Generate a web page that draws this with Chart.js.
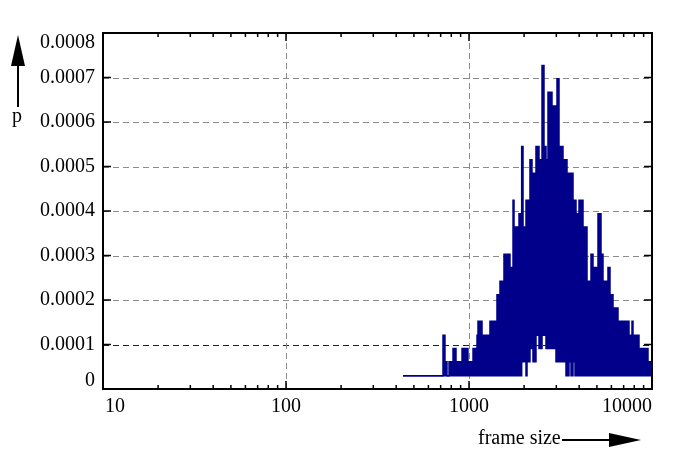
<!DOCTYPE html>
<html>
<head>
<meta charset="utf-8">
<script src="https://cdn.jsdelivr.net/npm/chart.js@4/dist/chart.umd.min.js"></script>
<style>
  html, body { margin: 0; background: #fff; }
</style>
</head>
<body>
<canvas id="frameChart" width="700" height="460"></canvas>
<script>
// --- Data ---
// left edge of each step (frame size)
const frameSizes = [
  436, 721, 739, 758, 778, 818, 849, 916, 987, 1052,
  1106, 1120, 1178, 1302, 1422, 1477, 1553, 1675, 1740, 1762,
  1876, 1924, 1948, 1973, 2049, 2075, 2154, 2209, 2237, 2323,
  2413, 2506, 2569, 2635, 2702, 2841, 2877, 2988, 3026, 3103,
  3263, 3389, 3432, 3519, 3609, 3701, 3795, 3843, 3991, 4197,
  4414, 4641, 4760, 5069, 5264, 5398, 5748, 5895, 6122, 6519,
  7487, 7775, 7873, 8490, 9272, 9390, 9509, 10000
];
// upper edge of the dense histogram
const pUpper = [
  0.00003, 0.000121, 0.000061, 0.00003, 0.000061, 0.000091, 0.000061, 0.000091, 0.000061, 0.000091,
  0.000121, 0.000152, 0.000121, 0.000152, 0.000212, 0.000242, 0.000303, 0.000273, 0.000424, 0.000364,
  0.000394, 0.000394, 0.000545, 0.000364, 0.000424, 0.000424, 0.000515, 0.000485, 0.000485, 0.000545,
  0.000515, 0.000727, 0.000545, 0.000515, 0.000667, 0.000606, 0.000636, 0.000606, 0.000697, 0.000545,
  0.000515, 0.000515, 0.000485, 0.000485, 0.000485, 0.000424, 0.000424, 0.000394, 0.000424, 0.000364,
  0.000242, 0.000303, 0.000273, 0.000394, 0.000303, 0.000242, 0.000273, 0.000212, 0.000182, 0.000152,
  0.000121, 0.000152, 0.000121, 0.000091, 0.000061, 0.000091, 0.000061, 0.000061
];
// lower edge of the dense histogram
const pLower = [
  0.00003, 0.00003, 0.00003, 0.00003, 0.00003, 0.00003, 0.00003, 0.00003, 0.00003, 0.00003,
  0.00003, 0.00003, 0.00003, 0.00003, 0.00003, 0.00003, 0.00003, 0.00003, 0.00003, 0.00003,
  0.00003, 0.000061, 0.000061, 0.000061, 0.00003, 0.000061, 0.000091, 0.000091, 0.000061, 0.000121,
  0.000091, 0.000121, 0.000121, 0.000091, 0.000091, 0.000091, 0.000091, 0.000061, 0.000061, 0.000061,
  0.000061, 0.00003, 0.00003, 0.000061, 0.00003, 0.000061, 0.00003, 0.00003, 0.00003, 0.00003,
  0.00003, 0.00003, 0.00003, 0.00003, 0.00003, 0.00003, 0.00003, 0.00003, 0.00003, 0.00003,
  0.00003, 0.00003, 0.00003, 0.00003, 0.00003, 0.00003, 0.00003, 0.00003
];

// --- Ticks ---
const yTicks = [0, 0.0001, 0.0002, 0.0003, 0.0004, 0.0005, 0.0006, 0.0007, 0.0008];
const yTickLabels = ['0', '0.0001', '0.0002', '0.0003', '0.0004', '0.0005', '0.0006', '0.0007', '0.0008'];
const xTicks = [10, 100, 1000, 10000];
const xTickLabels = ['10', '100', '1000', '10000'];

const BLUE = '#00008b';
const FONT = '20px "Liberation Serif", "DejaVu Serif", serif';

// each value holds from its frame size to the next one
function steps(values) {
  const pts = [];
  for (let i = 0; i < frameSizes.length - 1; i++) {
    pts.push({ x: frameSizes[i], y: values[i] });
    pts.push({ x: frameSizes[i + 1], y: values[i] });
  }
  return pts;
}

// --- Grid, frame, ticks and labels drawn on the library's scales ---
const framePlugin = {
  id: 'frame',
  beforeDatasetsDraw(chart) {
    const { ctx, chartArea: a, scales: { x, y } } = chart;
    ctx.save();
    ctx.lineWidth = 1;
    ctx.setLineDash([6, 4]);
    yTicks.forEach(v => {
      if (v === 0 || v === 0.0008) return;
      const py = Math.round(y.getPixelForValue(v)) + 0.5;
      ctx.strokeStyle = v === 0.0001 ? '#222' : '#8a8a8a';
      ctx.beginPath(); ctx.moveTo(a.left, py); ctx.lineTo(a.right, py); ctx.stroke();
    });
    ctx.strokeStyle = '#8a8a8a';
    xTicks.forEach(v => {
      if (v === 10 || v === 10000) return;
      const px = Math.round(x.getPixelForValue(v)) + 0.5;
      ctx.beginPath(); ctx.moveTo(px, a.top); ctx.lineTo(px, a.bottom); ctx.stroke();
    });
    ctx.restore();
  },
  afterDatasetsDraw(chart) {
    const { ctx, chartArea: a, scales: { x, y } } = chart;
    ctx.save();
    ctx.strokeStyle = '#000';
    ctx.lineWidth = 1.5;
    // y ticks, left and right, inward
    yTicks.forEach(v => {
      const py = y.getPixelForValue(v);
      ctx.beginPath();
      ctx.moveTo(a.left, py); ctx.lineTo(a.left + 8, py);
      ctx.moveTo(a.right, py); ctx.lineTo(a.right - 8, py);
      ctx.stroke();
    });
    // x ticks, major and minor, top and bottom
    for (let d = 10; d < 10000; d *= 10) {
      for (let k = 1; k < 10; k++) {
        const px = x.getPixelForValue(d * k);
        const len = k === 1 ? 8 : 4;
        ctx.beginPath();
        ctx.moveTo(px, a.bottom); ctx.lineTo(px, a.bottom - len);
        ctx.moveTo(px, a.top); ctx.lineTo(px, a.top + len);
        ctx.stroke();
      }
    }
    // frame
    ctx.lineWidth = 2;
    ctx.strokeRect(a.left, a.top, a.right - a.left, a.bottom - a.top);

    // tick labels
    ctx.fillStyle = '#000';
    ctx.font = FONT;
    ctx.textBaseline = 'middle';
    ctx.textAlign = 'right';
    yTicks.forEach((v, i) => {
      let py = y.getPixelForValue(v);
      if (i === 0) py -= 8;
      if (i === yTicks.length - 1) py += 10;
      ctx.fillText(yTickLabels[i], a.left - 8, py);
    });
    xTicks.forEach((v, i) => {
      const px = x.getPixelForValue(v);
      ctx.textAlign = i === 0 ? 'left' : (i === xTicks.length - 1 ? 'right' : 'center');
      ctx.fillText(xTickLabels[i], i === 0 ? px + 2 : px, a.bottom + 18);
    });

    // axis names with arrows
    ctx.textAlign = 'center';
    ctx.fillText('p', 17, 117);
    ctx.lineWidth = 2;
    ctx.beginPath(); ctx.moveTo(18, 64); ctx.lineTo(18, 107); ctx.stroke();
    ctx.beginPath(); ctx.moveTo(18, 35); ctx.lineTo(25, 66); ctx.lineTo(11, 66); ctx.closePath(); ctx.fill();

    ctx.textAlign = 'left';
    ctx.fillText('frame size', 478, 439);
    ctx.beginPath(); ctx.moveTo(562, 440); ctx.lineTo(612, 440); ctx.stroke();
    ctx.beginPath(); ctx.moveTo(641, 440); ctx.lineTo(609, 433); ctx.lineTo(609, 447); ctx.closePath(); ctx.fill();
    ctx.restore();
  }
};

// --- Chart ---
const ctx = document.getElementById('frameChart').getContext('2d');
const frameChart = new Chart(ctx, {
  type: 'line',
  data: {
    datasets: [{
      data: steps(pUpper),
      borderColor: BLUE,
      backgroundColor: BLUE,
      borderWidth: 1.5,
      pointRadius: 0,
      fill: '+1'
    }, {
      data: steps(pLower),
      borderColor: BLUE,
      borderWidth: 1.5,
      pointRadius: 0,
      fill: false
    }]
  },
  options: {
    responsive: false,
    animation: false,
    layout: { padding: { left: 103, right: 48, top: 33, bottom: 71 } },
    plugins: {
      legend: { display: false },
      tooltip: { enabled: false }
    },
    scales: {
      x: { type: 'logarithmic', min: 10, max: 10000, display: false },
      y: { type: 'linear', min: 0, max: 0.0008, display: false }
    }
  },
  plugins: [framePlugin]
});
</script>
</body>
</html>
